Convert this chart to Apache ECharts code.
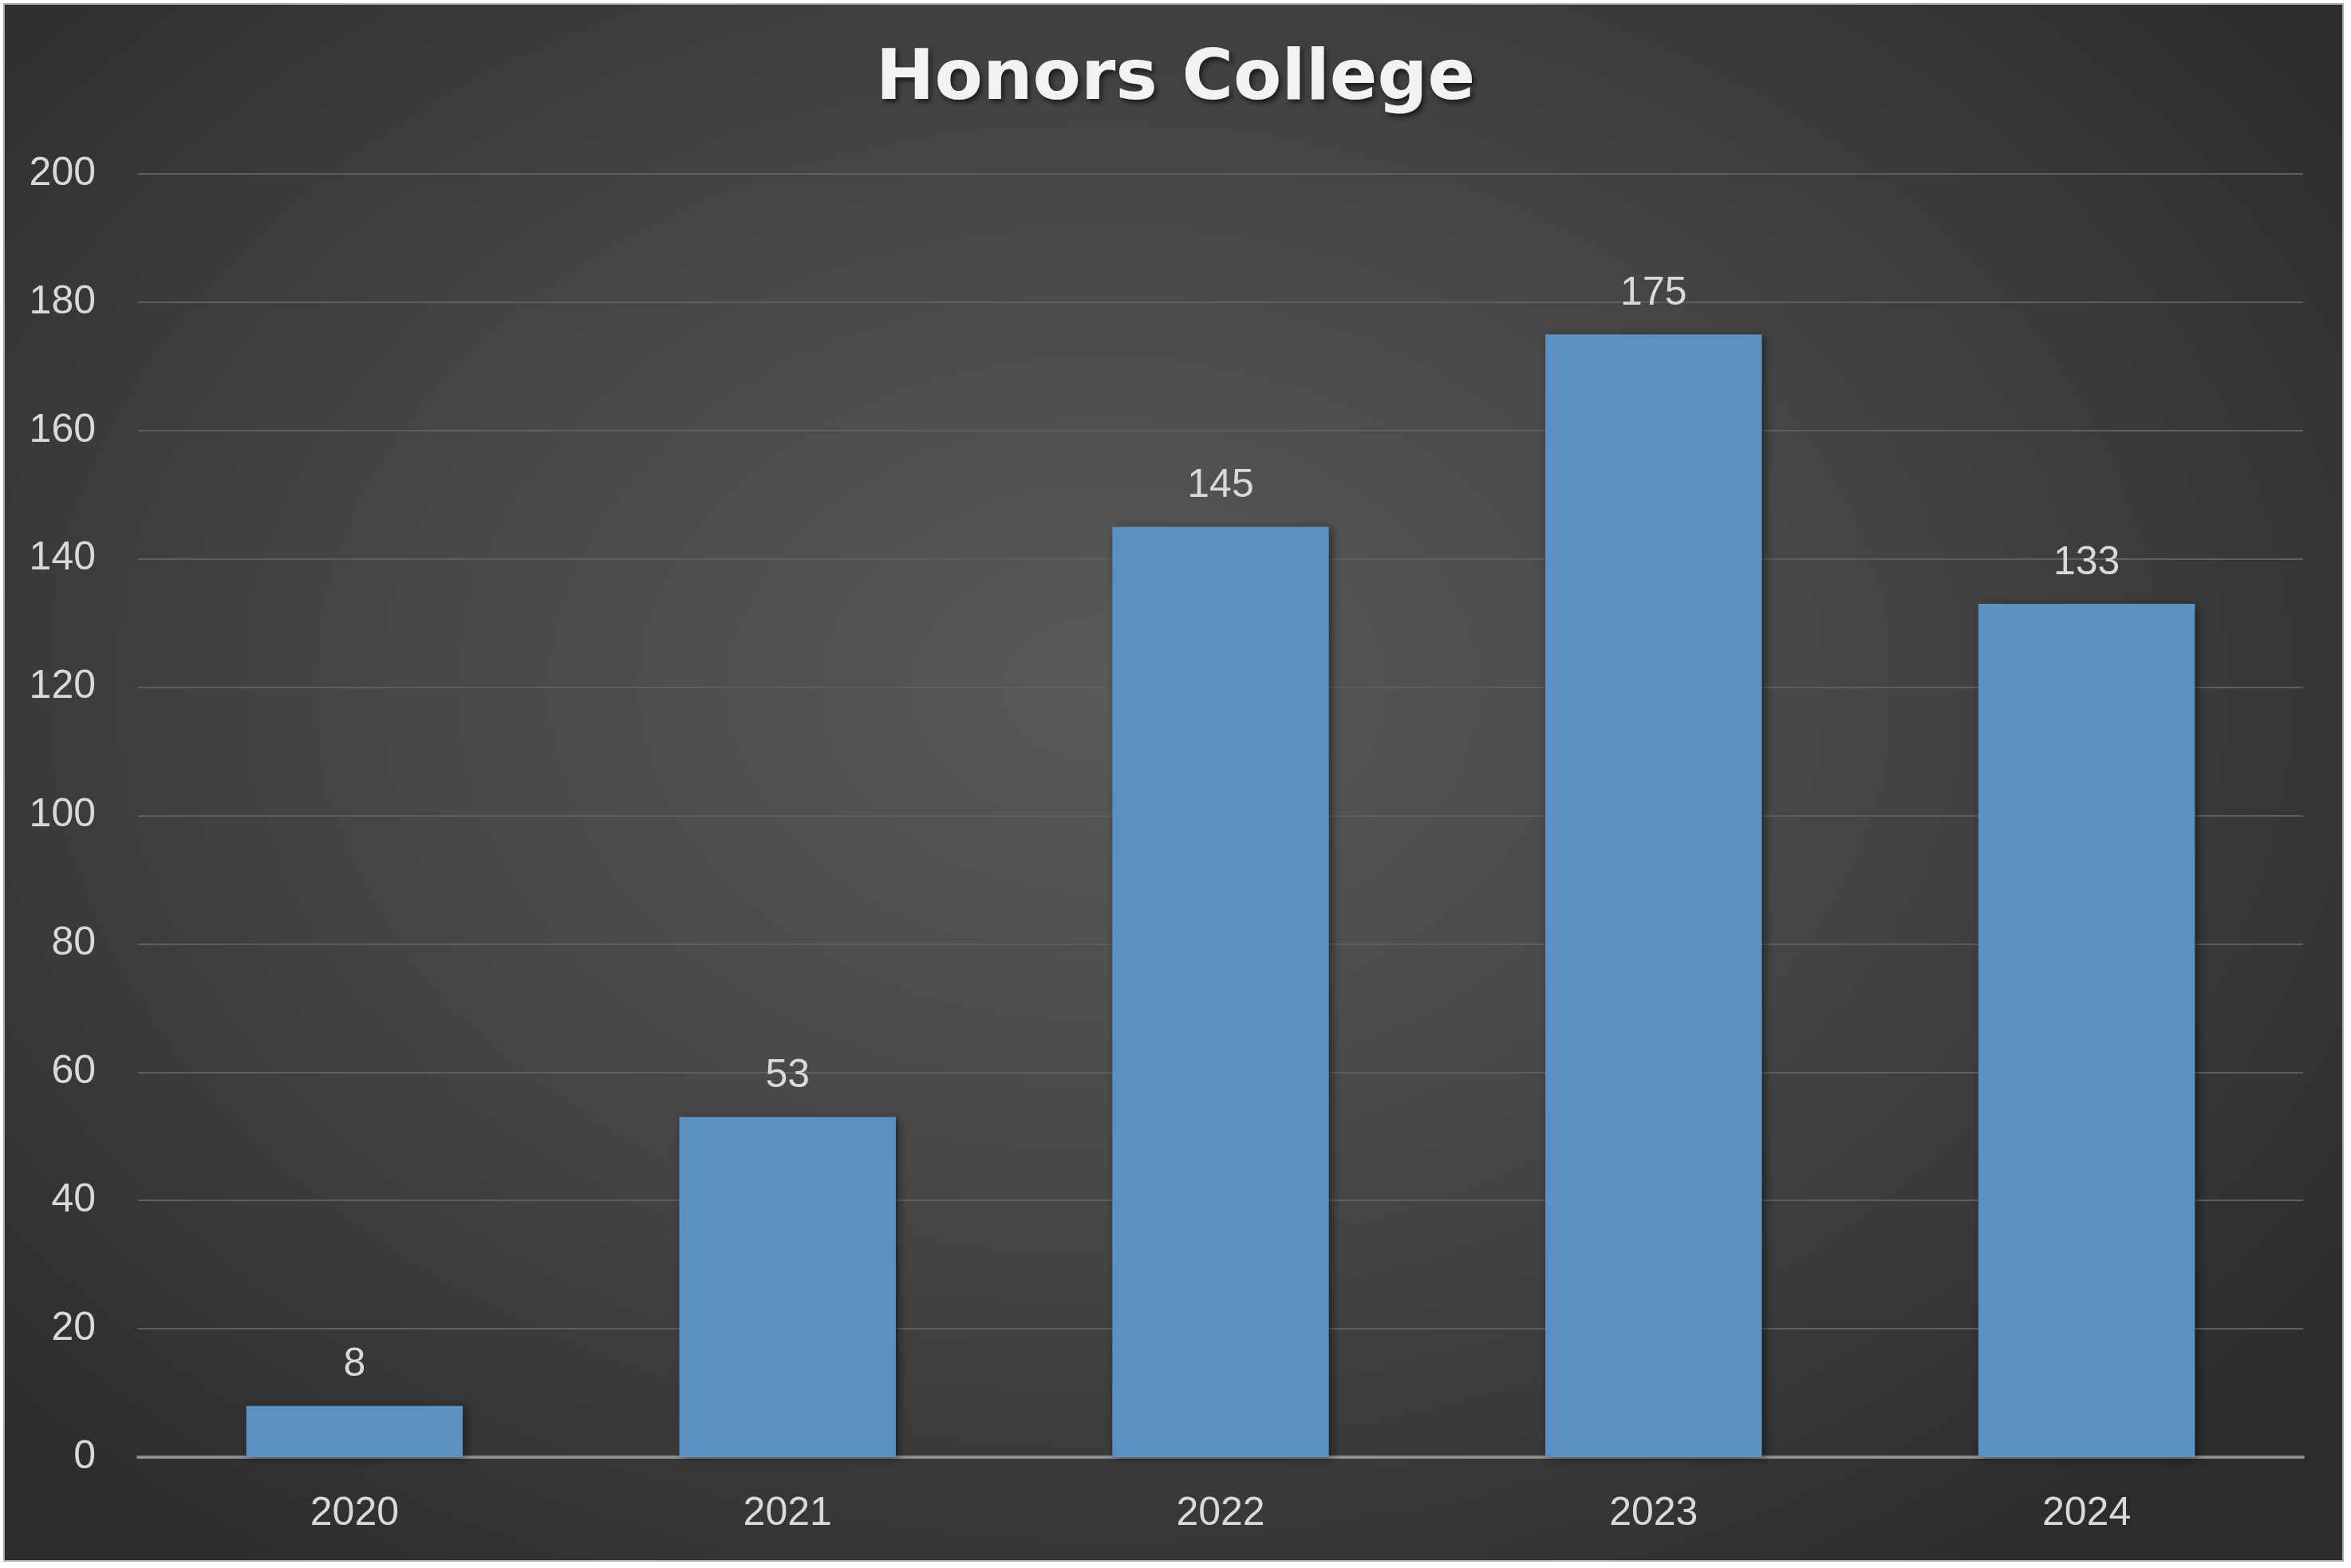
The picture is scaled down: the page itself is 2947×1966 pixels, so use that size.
<!DOCTYPE html>
<html><head><meta charset="utf-8">
<script src="https://cdn.jsdelivr.net/npm/echarts@6/dist/echarts.min.js"></script>
<style>
html,body{margin:0;padding:0;background:#ffffff;width:2947px;height:1966px;overflow:hidden;}
#frame{position:absolute;left:4px;top:4px;width:2930px;height:1950px;border:2px solid #a9a9a9;
background:radial-gradient(ellipse 65% 70% at 47% 44%, #595959 0%, #484848 45%, #2c2c2c 100%);}
#chart{position:absolute;left:0;top:0;width:2947px;height:1966px;}
</style></head>
<body><div id="frame"></div><div id="chart"></div>
<script>
const categories = ['2020','2021','2022','2023','2024'];
const values = [8, 53, 145, 175, 133];
const yTicks = [0, 20, 40, 60, 80, 100, 120, 140, 160, 180, 200];

const chart = echarts.init(document.getElementById('chart'), null, {renderer:'canvas'});
chart.setOption({
  backgroundColor: 'transparent',
  animation: false,
  title: {
    text: 'Honors College', left: 'center', top: 52,
    textStyle: {color:'#f2f2f2', fontFamily:'DejaVu Sans', fontWeight:'bold', fontSize:88,
      textShadowColor:'rgba(0,0,0,0.6)', textShadowBlur:6, textShadowOffsetX:3, textShadowOffsetY:4}
  },
  grid: {left:173, right:60, top:218, bottom:139, containLabel:false},
  xAxis: {
    type:'category', data: categories,
    axisLine:{show:true, lineStyle:{color:'#8e8e8e', width:4}},
    axisTick:{show:false},
    axisLabel:{color:'#d9d9d9', fontFamily:'Liberation Sans', fontSize:50, margin:46}
  },
  yAxis: {
    type:'value', min: yTicks[0], max: yTicks[yTicks.length-1], interval: 20,
    axisLine:{show:false}, axisTick:{show:false},
    axisLabel:{color:'#d9d9d9', fontFamily:'Liberation Sans', fontSize:50, margin:53},
    splitLine:{lineStyle:{color:'#5e5e5e', width:2}}
  },
  series: [{
    type:'bar', data: values, barWidth:'50%',
    itemStyle:{color:'#5b90c2', shadowColor:'rgba(0,0,0,0.45)', shadowBlur:10, shadowOffsetX:4, shadowOffsetY:2},
    label:{show:true, position:'top', distance:26, color:'#d9d9d9', fontFamily:'Liberation Sans', fontSize:50}
  }]
});
</script></body></html>
